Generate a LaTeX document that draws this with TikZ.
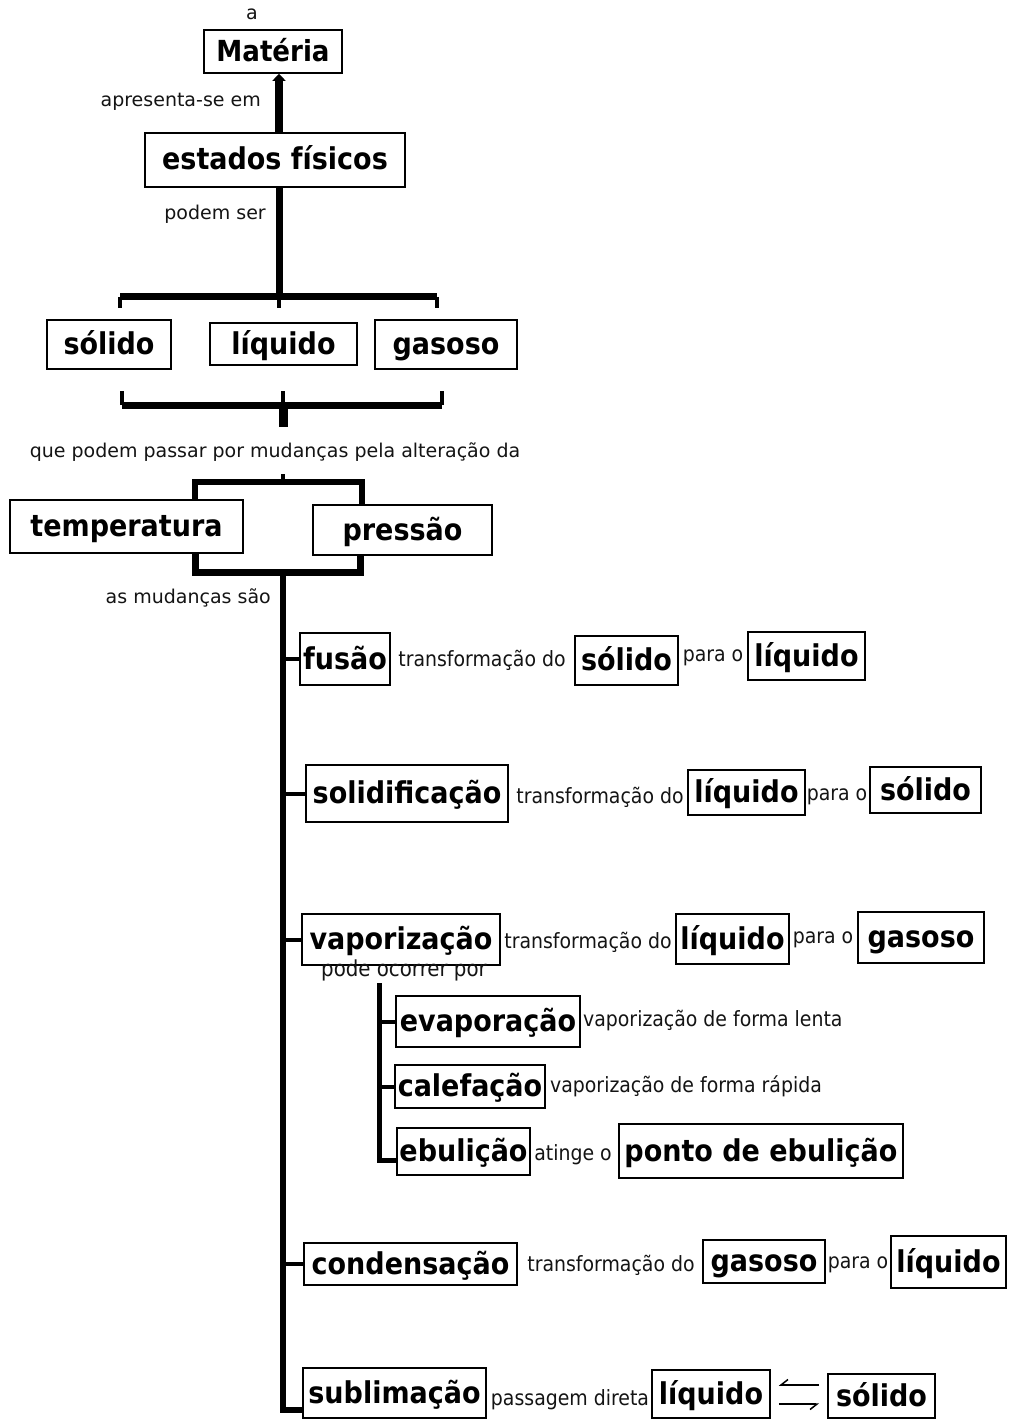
\documentclass[tikz,border=0pt]{standalone}
\usepackage{fontspec}
\setmainfont{DejaVu Sans}
\newfontfamily\condf{DejaVu Sans Condensed}
\usetikzlibrary{arrows.meta}
\begin{document}
\begin{tikzpicture}[x=1pt,y=-1pt,
 bx/.style={draw, line width=1.6pt, inner sep=0pt, text height=24pt, text depth=4pt, font=\condf\bfseries\fontsize{30}{30}\selectfont},
 lab/.style={inner sep=0pt, font=\fontsize{19}{19}\selectfont, text=black!92},
 rlab/.style={inner sep=0pt, font=\condf\fontsize{21}{21}\selectfont, text=black!92},
 conn/.style={line width=7pt},
 tickln/.style={line width=4pt},
 subln/.style={line width=5pt},
 dbl/.style={line width=1.5pt, -{Straight Barb[right,length=7pt,width=11pt]}, shorten <=8pt, shorten >=8pt},
]
\fill[white] (0,0) rectangle (1010,1420);
\useasboundingbox (0,0) rectangle (1010,1420);

% top part
\node[lab] (la) at (252,14) {a};
\node[bx, minimum width=138pt, minimum height=43pt, font=\condf\bfseries\fontsize{29}{29}\selectfont] (mat) at (273,51.5) {Matéria};
\node[lab, anchor=east] (lap) at (261,102) {apresenta-se em};
\node[bx, minimum width=260pt, minimum height=54pt] (est) at (275,160) {estados físicos};
\node[lab, anchor=east] (lpod) at (266,214) {podem ser};

\node[bx, minimum width=124pt, minimum height=49pt] (sol) at (109,344.5) {sólido};
\node[bx, minimum width=147pt, minimum height=42pt] (liq) at (283.5,344) {líquido};
\node[bx, minimum width=142pt, minimum height=49pt] (gas) at (446,344.5) {gasoso};

\node[lab] (lque) at (275,452) {que podem passar por mudanças pela alteração da};

\node[bx, minimum width=233pt, minimum height=53pt] (temp) at (126.5,526.5) {temperatura};
\node[bx, minimum width=179pt, minimum height=50pt] (pres) at (402.5,530) {pressão};
\node[lab, anchor=east] (lmud) at (271,598) {as mudanças são};

% rows
\node[bx, minimum width=90pt, minimum height=52pt] (fus) at (345,659) {fusão};
\node[rlab] (t1) at (482,660) {transformação do};
\node[bx, minimum width=103pt, minimum height=49pt] (sol1) at (626.5,660.5) {sólido};
\node[rlab] (p1) at (713,658) {para o};
\node[bx, minimum width=117pt, minimum height=48pt] (liq1) at (806.5,656) {líquido};

\node[bx, minimum width=202pt, minimum height=57pt] (soli) at (407,793.5) {solidificação};
\node[rlab] (t2) at (600,797) {transformação do};
\node[bx, minimum width=117pt, minimum height=45pt] (liq2) at (746.5,792.5) {líquido};
\node[rlab] (p2) at (837,797) {para o};
\node[bx, minimum width=111pt, minimum height=46pt] (sol2) at (925.5,790) {sólido};

\node[bx, minimum width=198pt, minimum height=51pt] (vap) at (401,939.5) {vaporização};
\node[rlab] (t3) at (588,942) {transformação do};
\node[bx, minimum width=113pt, minimum height=50pt] (liq3) at (732.5,939) {líquido};
\node[rlab] (p3) at (823,940) {para o};
\node[bx, minimum width=126pt, minimum height=51pt] (gas3) at (921,937.5) {gasoso};
\node[rlab, font=\condf\fontsize{22}{22}\selectfont] (lpode) at (404,970) {pode ocorrer por};

\node[bx, minimum width=184pt, minimum height=51pt] (evap) at (488,1021.5) {evaporação};
\node[rlab, anchor=west] (le) at (583,1021) {vaporização de forma lenta};
\node[bx, minimum width=150pt, minimum height=43pt] (calef) at (470,1086.5) {calefação};
\node[rlab, anchor=west] (lc) at (550,1086) {vaporização de forma rápida};
\node[bx, minimum width=133pt, minimum height=47pt] (ebu) at (463.5,1151.5) {ebulição};
\node[rlab] (lat) at (573,1155) {atinge o};
\node[bx, minimum width=284pt, minimum height=54pt] (pto) at (761,1151) {ponto de ebulição};

\node[bx, minimum width=213pt, minimum height=42pt] (cond) at (410.5,1264) {condensação};
\node[rlab] (t4) at (611,1265) {transformação do};
\node[bx, minimum width=122pt, minimum height=43pt] (gas4) at (764,1261.5) {gasoso};
\node[rlab] (p4) at (858,1265) {para o};
\node[bx, minimum width=115pt, minimum height=52pt] (liq4) at (948.5,1262) {líquido};

\node[bx, minimum width=183pt, minimum height=50pt] (subl) at (394.5,1393) {sublimação};
\node[rlab] (lpas) at (570,1400) {passagem direta};
\node[bx, minimum width=118pt, minimum height=48pt] (liq5) at (711,1394) {líquido};
\node[bx, minimum width=107pt, minimum height=44pt] (sol5) at (881.5,1396) {sólido};

% connectors: top
\coordinate (vx1) at (279,297);
\draw[line width=8pt, -{Triangle[length=7pt,width=13pt]}] (est.north -| vx1) -- (mat.south -| vx1);
\draw[conn] (est.south -| vx1) -- (vx1);
\coordinate (bl) at (120,297);
\coordinate (br) at (437,297);
\draw[conn] (bl) -- (br);
\draw[tickln] (bl) -- ++(0,11);
\draw[tickln] (br) -- ++(0,11);
\draw[tickln] (vx1) -- ++(0,11);

% lower bracket
\coordinate (cl) at (122,405);
\coordinate (cr) at (442,405);
\coordinate (cm) at (283,405);
\draw[conn] (cl) -- (cr);
\draw[tickln] (cl) -- ++(0,-14);
\draw[tickln] (cr) -- ++(0,-14);
\draw[tickln] (cm) -- ++(0,-14);
\draw[line width=9pt] (cm) -- ++(0,22);

% temperatura / pressao bracket
\coordinate (tl) at (195,482);
\coordinate (tr) at (362,482);
\coordinate (tm) at (283,482);
\draw[line width=6pt] (temp.north -| tl) -- (tl) -- (tr) -- (pres.north -| tr);
\draw[tickln] (tm) -- ++(0,-8);

\coordinate (ul) at (195,572);
\coordinate (ur) at (360,572);
\coordinate (um) at (283,572);
\draw[conn] (temp.south -| ul) -- (ul) -- (ur) -- (pres.south -| ur);

% main trunk
\coordinate (mb) at (283,1410);
\draw[line width=6pt] (um) -- (mb) -- (mb -| subl.west);
\draw[tickln] (fus.west -| um) -- (fus.west);
\draw[tickln] (soli.west -| um) -- (soli.west);
\draw[tickln] (vap.west -| um) -- (vap.west);
\draw[tickln] (cond.west -| um) -- (cond.west);

% vaporization subtree
\coordinate (st) at (379,983);
\coordinate (sb) at (379,1160);
\draw[subln] (st) -- (sb) -- (sb -| ebu.west);
\draw[tickln] (evap.west -| st) -- (evap.west);
\draw[tickln] (calef.west -| st) -- (calef.west);

% double arrows
\coordinate (ua) at ([yshift=11pt]sol5.west);
\coordinate (lb) at ([yshift=-10pt]liq5.east);
\draw[dbl] (ua) -- (ua -| liq5.east);
\draw[dbl] (lb) -- (lb -| sol5.west);
\end{tikzpicture}
\end{document}
